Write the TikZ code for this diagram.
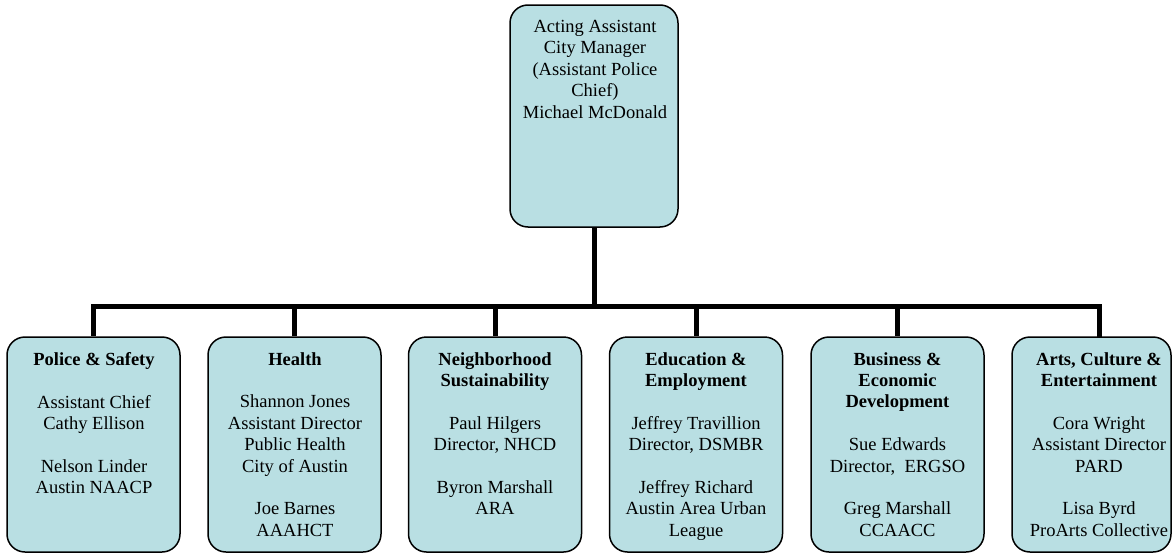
\documentclass[tikz,border=0pt]{standalone}
\usepackage{fontspec}
\setmainfont{Liberation Serif}
\newfontfamily\timesfont{Liberation Serif}
\definecolor{boxfill}{RGB}{185,223,227}
\begin{document}
\begin{tikzpicture}[x=1pt,y=-1pt,
  box/.style={draw=black,line width=1.5pt,fill=boxfill,rounded corners=18pt,inner sep=0pt},
  txt/.style={anchor=north,align=center,inner sep=0pt,font={\timesfont\fontsize{18.5}{21.4}\selectfont}},
  conn/.style={draw=black,line width=5pt}]
\useasboundingbox (0,0) rectangle (1173,554);
% top box
\node[box,minimum width=168pt,minimum height=222pt] (top) at (594,116) {};
\node[txt] (toptxt) at (595,20) {Acting Assistant\\City Manager\\(Assistant Police\\Chief)\\Michael McDonald};
% bottom boxes
\node[box,minimum width=173pt,minimum height=215pt] (b1) at (93.5,444.5) {};
\node[box,minimum width=173pt,minimum height=215pt] (b2) at (294.5,444.5) {};
\node[box,minimum width=173pt,minimum height=215pt] (b3) at (495,444.5) {};
\node[box,minimum width=173pt,minimum height=215pt] (b4) at (696,444.5) {};
\node[box,minimum width=173pt,minimum height=215pt] (b5) at (897.5,444.5) {};
\node[box,minimum width=159pt,minimum height=215pt] (b6) at (1091.5,444.5) {};
\coordinate (hub) at (594,306);
\coordinate (s6) at (1099,337);
% connectors
\draw[conn] (top.south) -- (hub);
\draw[conn] (hub) -| (b1.north);
\draw[conn] (hub) -| (b2.north);
\draw[conn] (hub) -| (b3.north);
\draw[conn] (hub) -| (b4.north);
\draw[conn] (hub) -| (b5.north);
\draw[conn] (hub) -| (s6);
% texts
\node[txt] (t1) at (94,352) {\textbf{Police \& Safety}\\[21.4pt]Assistant Chief\\Cathy Ellison\\[21.4pt]Nelson Linder\\Austin NAACP};
\node[txt] (t2) at (295,352) {\textbf{Health}\\[21.4pt]Shannon Jones\\Assistant Director\\Public Health\\City of Austin\\[21.4pt]Joe Barnes\\AAAHCT};
\node[txt] (t3) at (495,352) {\textbf{Neighborhood}\\\textbf{Sustainability}\\[21.4pt]Paul Hilgers\\Director, NHCD\\[21.4pt]Byron Marshall\\ARA};
\node[txt] (t4) at (696,352) {\textbf{Education \&}\\\textbf{Employment}\\[21.4pt]Jeffrey Travillion\\Director, DSMBR\\[21.4pt]Jeffrey Richard\\Austin Area Urban\\League};
\node[txt] (t5) at (897.5,352) {\textbf{Business \&}\\\textbf{Economic}\\\textbf{Development}\\[21.4pt]Sue Edwards\\Director,\ \ ERGSO\\[21.4pt]Greg Marshall\\CCAACC};
\node[txt] (t6) at (1099,352) {\textbf{Arts, Culture \&}\\\textbf{Entertainment}\\[21.4pt]Cora Wright\\Assistant Director\\PARD\\[21.4pt]Lisa Byrd\\ProArts Collective};
\end{tikzpicture}
\end{document}
